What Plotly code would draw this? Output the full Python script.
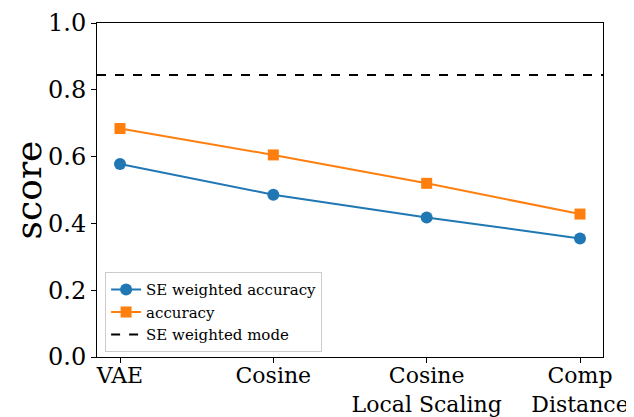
import plotly.graph_objects as go

categories = ["VAE", "Cosine", "Cosine<br>Local Scaling", "Comp<br>Distance"]
se_weighted_accuracy = [0.578, 0.486, 0.418, 0.355]
accuracy = [0.684, 0.605, 0.520, 0.428]
se_weighted_mode = 0.844
y_ticks = [0.0, 0.2, 0.4, 0.6, 0.8, 1.0]

FONT = "DejaVu Serif"
xs = list(range(len(categories)))

fig = go.Figure()
fig.add_trace(go.Scatter(
    x=xs, y=se_weighted_accuracy, mode="lines+markers", name="SE weighted accuracy",
    line=dict(color="#1f77b4", width=2), marker=dict(symbol="circle", size=12, color="#1f77b4")))
fig.add_trace(go.Scatter(
    x=xs, y=accuracy, mode="lines+markers", name="accuracy",
    line=dict(color="#ff7f0e", width=2), marker=dict(symbol="square", size=11, color="#ff7f0e")))
fig.add_trace(go.Scatter(
    x=[-0.15, 3.15], y=[se_weighted_mode, se_weighted_mode], mode="lines", name="SE weighted mode",
    line=dict(color="black", width=2, dash="dash")))

# page body has an 8px default margin, so the figure is drawn 8px smaller and offset
fig.update_layout(
    width=626, height=409,
    margin=dict(l=89, r=31, t=15, b=60),
    paper_bgcolor="white", plot_bgcolor="white",
    font=dict(family=FONT, color="black"),
    showlegend=True,
    legend=dict(x=0.016, y=0.014, xanchor="left", yanchor="bottom",
                bgcolor="rgba(255,255,255,0.8)", bordercolor="#cccccc", borderwidth=1,
                font=dict(family=FONT, size=15), tracegroupgap=0, itemwidth=30),
)
fig.update_xaxes(
    range=[-0.15, 3.15], tickmode="array", tickvals=xs, ticktext=categories, automargin=False,
    ticklabeloverflow="allow", ticklabelstandoff=-6,
    showgrid=False, zeroline=False, showline=True, linecolor="black", linewidth=1, mirror=True,
    ticks="outside", ticklen=5, tickcolor="black", tickfont=dict(family=FONT, size=22))
fig.update_yaxes(
    range=[0, 1.0], tickmode="array", tickvals=y_ticks, ticktext=[f"{v:.1f}" for v in y_ticks],
    automargin=False, ticklabeloverflow="allow",
    showgrid=False, zeroline=False, showline=True, linecolor="black", linewidth=1, mirror=True,
    ticks="outside", ticklen=5, tickcolor="black", tickfont=dict(family=FONT, size=24),
    title=dict(text="score", font=dict(family=FONT, size=36), standoff=16))

fig.write_html("out.html")
